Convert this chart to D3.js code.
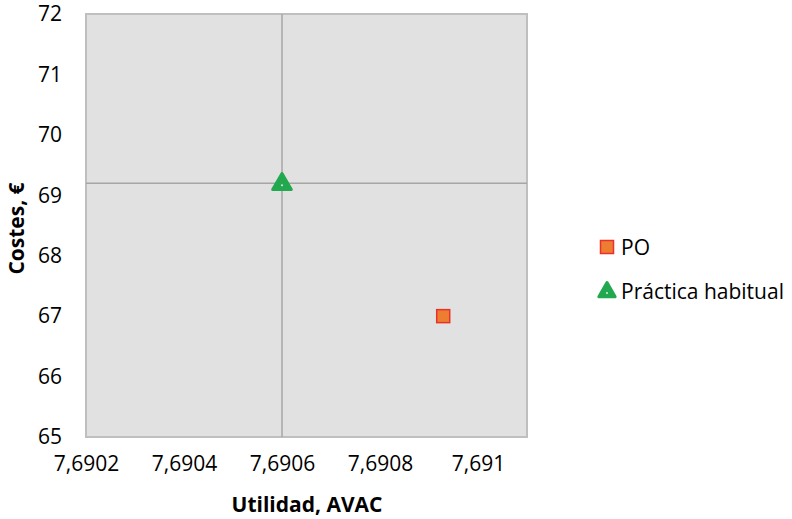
<!DOCTYPE html>
<html>
<head>
<meta charset="utf-8">
<script src="https://cdn.jsdelivr.net/npm/d3@7"></script>
<style>
  html, body { margin: 0; padding: 0; background: #ffffff; }
  svg text { font-family: "Open Sans", "Liberation Sans", sans-serif; fill: #000; }
</style>
</head>
<body>
<svg id="chart" width="792" height="519"></svg>
<script>
// Cost-effectiveness plane: utility (QALY) vs cost
const seriesNames = ["PO", "Práctica habitual"];
const utilidad = [7.690929, 7.6906];
const costes = [67.0, 69.2];
const xTicks = [7.6902, 7.6904, 7.6906, 7.6908, 7.691];
const yTicks = [65, 66, 67, 68, 69, 70, 71, 72];
const xDomain = [7.6902, 7.6911];
const yDomain = [65, 72];
const referenceIndex = 1; // axes cross at the usual-practice point

const FONT = 21;
const svg = d3.select("#chart");
const plot = { left: 86, top: 14, right: 527, bottom: 437 };

const x = d3.scaleLinear().domain(xDomain).range([plot.left, plot.right]);
const y = d3.scaleLinear().domain(yDomain).range([plot.bottom, plot.top]);

const fmtX = v => String(+v.toFixed(4)).replace(".", ",");

// plot area
svg.append("rect")
  .attr("x", plot.left).attr("y", plot.top)
  .attr("width", plot.right - plot.left).attr("height", plot.bottom - plot.top)
  .attr("fill", "#e1e1e1").attr("stroke", "#bfbfbf").attr("stroke-width", 2);

// crossing axes through the reference point
svg.append("line")
  .attr("x1", x(utilidad[referenceIndex])).attr("x2", x(utilidad[referenceIndex]))
  .attr("y1", plot.top).attr("y2", plot.bottom)
  .attr("stroke", "#a6a6a6").attr("stroke-width", 1.5);
svg.append("line")
  .attr("x1", plot.left).attr("x2", plot.right)
  .attr("y1", y(costes[referenceIndex])).attr("y2", y(costes[referenceIndex]))
  .attr("stroke", "#a6a6a6").attr("stroke-width", 1.5);

// tick labels via d3 axes
const xAxis = d3.axisBottom(x).tickValues(xTicks).tickFormat(fmtX).tickSize(0).tickPadding(14);
const gx = svg.append("g").attr("transform", `translate(0,${plot.bottom + 5})`).call(xAxis);
gx.select(".domain").remove();
gx.selectAll("text").attr("font-size", FONT).attr("font-family", "Open Sans, Liberation Sans, sans-serif").attr("fill", "#000");

const yAxis = d3.axisLeft(y).tickValues(yTicks).tickFormat(d3.format("d")).tickSize(0).tickPadding(24);
const gy = svg.append("g").attr("transform", `translate(${plot.left},0)`).call(yAxis);
gy.select(".domain").remove();
gy.selectAll("text").attr("font-size", FONT).attr("font-family", "Open Sans, Liberation Sans, sans-serif").attr("fill", "#000");

// axis titles
svg.append("text")
  .attr("x", 307).attr("y", 512)
  .attr("text-anchor", "middle").attr("font-size", FONT).attr("font-weight", "bold")
  .text("Utilidad, AVAC");
svg.append("text")
  .attr("transform", `translate(24,${(plot.top + plot.bottom) / 2 + 3}) rotate(-90)`)
  .attr("text-anchor", "middle").attr("font-size", FONT).attr("font-weight", "bold")
  .text("Costes, €");

// markers
function drawMarker(g, i, cx, cy, size) {
  if (i === 0) {
    g.append("rect")
      .attr("x", cx - 6.5).attr("y", cy - 6.5).attr("width", 13).attr("height", 13)
      .attr("fill", "#ed7d31").attr("stroke", "#e8312a").attr("stroke-width", 1.5);
  } else {
    g.append("path")
      .attr("d", d3.symbol().type(d3.symbolTriangle).size(size)())
      .attr("transform", `translate(${cx},${cy + 1})`)
      .attr("fill", "#22a84e").attr("stroke", "#22a84e")
      .attr("stroke-width", 3).attr("stroke-linejoin", "round");
    g.append("circle").attr("cx", cx).attr("cy", cy + 2).attr("r", 1).attr("fill", "#d8eedd");
  }
}

const pts = svg.append("g");
utilidad.forEach((u, i) => drawMarker(pts, i, x(u), y(costes[i]), 150));

// legend
const legend = svg.append("g");
const legendY = [247, 291];
seriesNames.forEach((name, i) => {
  drawMarker(legend, i, 607, legendY[i], 115);
  legend.append("text")
    .attr("x", 621).attr("y", legendY[i] + 8)
    .attr("font-size", FONT).text(name);
});
</script>
</body>
</html>
